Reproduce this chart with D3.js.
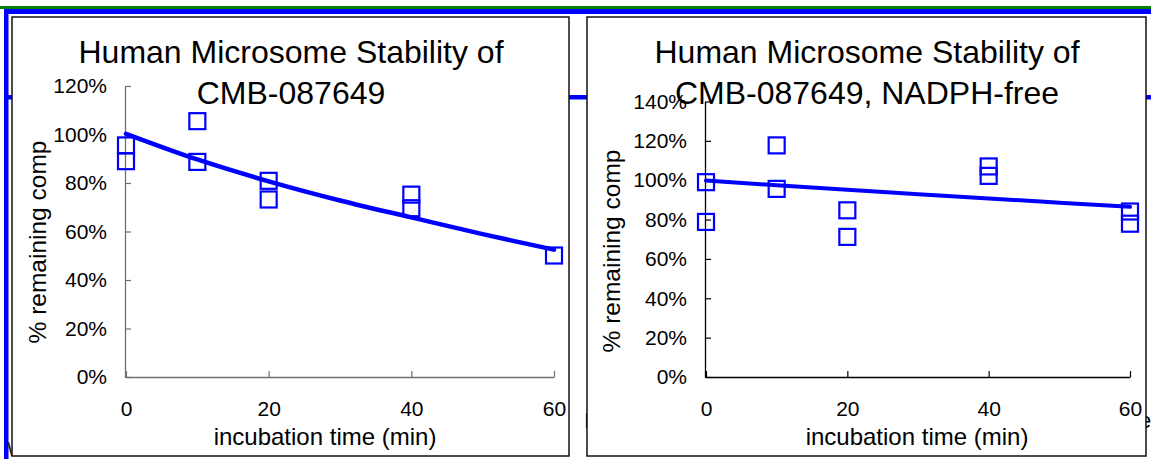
<!DOCTYPE html>
<html>
<head>
<meta charset="utf-8">
<script src="https://cdn.jsdelivr.net/npm/d3@7"></script>
<style>
  html, body { margin: 0; padding: 0; background: #fff; }
  svg { display: block; }
  text { font-family: "Liberation Sans", Arial, Helvetica, sans-serif; }
</style>
</head>
<body>
<svg id="chart" width="1151" height="459"></svg>
<script>
// ---- Data ----
const leftTitle = ["Human Microsome Stability of", "CMB-087649"];
const rightTitle = ["Human Microsome Stability of", "CMB-087649, NADPH-free"];
const xLabel = "incubation time (min)";
const yLabel = "% remaining comp";

const xTicks = [0, 20, 40, 60];
const leftYTicks = [0, 20, 40, 60, 80, 100, 120];
const rightYTicks = [0, 20, 40, 60, 80, 100, 120, 140];

// measured points (time, % remaining)
const leftTimes = [0, 0, 10, 10, 20, 20, 40, 40, 60];
const leftValues = [95.5, 89.0, 105.5, 88.7, 80.9, 73.2, 75.2, 69.6, 50.1];
// fitted decay curve
const leftFitTimes = [0, 10, 20, 30, 40, 50, 60];
const leftFitValues = [100.3, 89.7, 80.7, 72.8, 65.8, 58.9, 52.5];

const rightTimes = [0, 0, 10, 10, 20, 20, 40, 40, 60, 60];
const rightValues = [99.0, 78.8, 117.7, 95.6, 84.7, 71.2, 107.0, 102.2, 84.1, 77.9];
const rightFitTimes = [0, 10, 20, 30, 40, 50, 60];
const rightFitValues = [99.8, 97.4, 95.1, 92.9, 90.7, 88.6, 86.5];

const BLUE = "#0000ff";
const svg = d3.select("#chart");

// ---- slide background pieces ----
svg.append("rect").attr("x", 0).attr("y", 6).attr("width", 1151).attr("height", 3).attr("fill", "#008000");
svg.append("rect").attr("x", 4).attr("y", 9).attr("width", 1147).attr("height", 5).attr("fill", BLUE);
svg.append("rect").attr("x", 4).attr("y", 9).attr("width", 4.5).attr("height", 450).attr("fill", BLUE);
svg.append("rect").attr("x", 8).attr("y", 95).attr("width", 1143).attr("height", 4.5).attr("fill", BLUE);
svg.append("text").attr("x", 7).attr("y", 456).attr("font-size", 20).attr("fill", "#222").text("W");
svg.append("text").attr("x", 584).attr("y", 428).attr("font-size", 22).attr("fill", "#000").text("I");
svg.append("text").attr("x", 1139).attr("y", 428).attr("font-size", 22).attr("fill", "#000").text("e");

function panel(cfg) {
  const g = svg.append("g");
  g.append("rect")
    .attr("x", cfg.box[0]).attr("y", cfg.box[1])
    .attr("width", cfg.box[2] - cfg.box[0]).attr("height", cfg.box[3] - cfg.box[1])
    .attr("fill", "#fff").attr("stroke", "#111").attr("stroke-width", 1.5);

  const x = d3.scaleLinear().domain([0, 60]).range(cfg.xRange);
  const y = d3.scaleLinear().domain(cfg.yDomain).range(cfg.yRange);

  // axes
  const yAxis = d3.axisLeft(y).tickValues(cfg.yTicks).tickSizeInner(-6).tickSizeOuter(0)
    .tickPadding(18).tickFormat(d => d + "%");
  const gy = g.append("g").attr("transform", `translate(${cfg.xRange[0] - 1},0)`).call(yAxis);
  const xAxis = d3.axisBottom(x).tickValues(xTicks).tickSizeInner(-6).tickSizeOuter(0)
    .tickPadding(24);
  const gx = g.append("g").attr("transform", `translate(0,${cfg.yRange[0]})`).call(xAxis);
  [gx, gy].forEach(a => {
    a.select(".domain").attr("stroke", cfg.axisColor).attr("stroke-width", 1.3);
    a.selectAll(".tick line").attr("stroke", cfg.axisColor).attr("stroke-width", 1.2);
    a.selectAll(".tick text").attr("font-size", 21).attr("fill", "#000")
      .attr("font-family", '"Liberation Sans", Arial, sans-serif');
  });

  // fit line
  const line = d3.line().x(d => x(d[0])).y(d => y(d[1])).curve(d3.curveMonotoneX);
  g.append("path")
    .datum(cfg.fitT.map((t, i) => [t, cfg.fitV[i]]))
    .attr("d", line).attr("fill", "none").attr("stroke", BLUE)
    .attr("stroke-width", cfg.lineW).attr("stroke-linecap", "round");

  // markers
  const s = 16;
  g.selectAll("rect.pt").data(cfg.ptT.map((t, i) => [t, cfg.ptV[i]])).enter()
    .append("rect").attr("class", "pt")
    .attr("x", d => x(d[0]) - s / 2).attr("y", d => y(d[1]) - s / 2)
    .attr("width", s).attr("height", s)
    .attr("fill", "none").attr("stroke", BLUE).attr("stroke-width", 2.2);

  // titles
  cfg.title.forEach((t, i) => {
    g.append("text").attr("x", cfg.titleX).attr("y", 63 + i * 41)
      .attr("text-anchor", "middle").attr("font-size", 32).attr("fill", "#000").text(t);
  });
  g.append("text").attr("x", cfg.xLabelX).attr("y", 445)
    .attr("text-anchor", "middle").attr("font-size", 24).attr("fill", "#000").text(xLabel);
  g.append("text").attr("transform", `translate(${cfg.yLabelPos[0]},${cfg.yLabelPos[1]}) rotate(-90)`)
    .attr("text-anchor", "middle").attr("font-size", 24.5).attr("fill", "#000").text(yLabel);
}

panel({
  box: [12, 17, 569, 456],
  xRange: [126, 554], yDomain: [0, 120], yRange: [377, 86],
  yTicks: leftYTicks, axisColor: "#707070", lineW: 4.5,
  ptT: leftTimes, ptV: leftValues, fitT: leftFitTimes, fitV: leftFitValues,
  title: leftTitle, titleX: 291, xLabelX: 325, yLabelPos: [46, 242]
});
panel({
  box: [587, 17, 1146, 456],
  xRange: [706, 1130], yDomain: [0, 140], yRange: [377, 101.5],
  yTicks: rightYTicks, axisColor: "#000", lineW: 4,
  ptT: rightTimes, ptV: rightValues, fitT: rightFitTimes, fitV: rightFitValues,
  title: rightTitle, titleX: 867, xLabelX: 917, yLabelPos: [620, 251]
});
</script>
</body>
</html>
